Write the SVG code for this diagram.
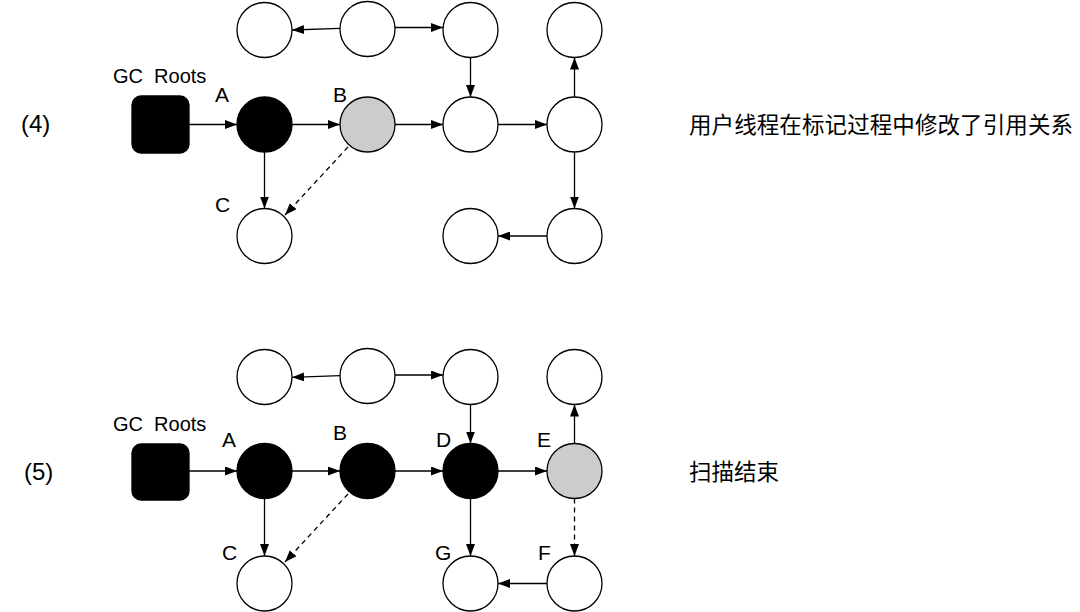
<svg xmlns="http://www.w3.org/2000/svg" width="1080" height="612" viewBox="0 0 1080 612">
<style>
.n{fill:#fff;stroke:#000;stroke-width:1.3}
.b{fill:#000;stroke:#000;stroke-width:1.3}
.g{fill:#ccc;stroke:#000;stroke-width:1.3}
.e{stroke:#000;stroke-width:1.3;fill:none;marker-end:url(#ah)}
.d{stroke-dasharray:5 4}
.t{font-family:"Liberation Sans",Arial,sans-serif;fill:#000}
.lb{font-size:21px}
.gc{font-size:20px}
.num{font-size:24px}
.cn{font-family:"Noto Sans CJK SC","Liberation Sans",sans-serif;fill:#000;font-size:22.5px}
</style>
<defs>
<marker id="ah" markerUnits="userSpaceOnUse" markerWidth="12" markerHeight="9" refX="12" refY="4.5" orient="auto">
<path d="M0,0 L12,4.5 L0,9 z" fill="#000"/>
</marker>
</defs>
<rect width="1080" height="612" fill="#fff"/>

<!-- Diagram (4) -->
<g id="label4"><text class="t num" x="21" y="132">(4)</text></g>
<g id="desc4"><text class="cn" x="689" y="133" textLength="384">用户线程在标记过程中修改了引用关系</text></g>
<g id="gc4"><rect class="b" x="132" y="96" width="57" height="57" rx="9"/><text class="t gc" x="113" y="83" xml:space="preserve">GC  Roots</text></g>
<g id="a4"><circle class="b" cx="264.5" cy="124.5" r="27.5"/><text class="t lb" x="215" y="102">A</text></g>
<g id="b4"><circle class="g" cx="367.5" cy="124.5" r="27.5"/><text class="t lb" x="333" y="102">B</text></g>
<g id="c4"><circle class="n" cx="264.5" cy="236" r="27.5"/><text class="t lb" x="215" y="212">C</text></g>
<g id="t1_4"><circle class="n" cx="264.5" cy="30" r="27.5"/></g>
<g id="t2_4"><circle class="n" cx="367.5" cy="29" r="27.5"/></g>
<g id="t3_4"><circle class="n" cx="470.5" cy="30" r="27.5"/></g>
<g id="t4_4"><circle class="n" cx="574.5" cy="30" r="27.5"/></g>
<g id="m3_4"><circle class="n" cx="470.5" cy="124.5" r="27.5"/></g>
<g id="m4_4"><circle class="n" cx="574.5" cy="124.5" r="27.5"/></g>
<g id="b3_4"><circle class="n" cx="470.5" cy="236" r="27.5"/></g>
<g id="b4_4"><circle class="n" cx="574.5" cy="236" r="27.5"/></g>

<!-- Diagram (5) -->
<g id="label5"><text class="t num" x="24" y="480">(5)</text></g>
<g id="desc5"><text class="cn" x="689" y="480">扫描结束</text></g>
<g id="gc5"><rect class="b" x="132" y="444" width="57" height="56" rx="9"/><text class="t gc" x="113" y="431" xml:space="preserve">GC  Roots</text></g>
<g id="a5"><circle class="b" cx="264.5" cy="471" r="27.5"/><text class="t lb" x="222" y="447">A</text></g>
<g id="b5"><circle class="b" cx="367.5" cy="471" r="27.5"/><text class="t lb" x="333" y="440">B</text></g>
<g id="c5"><circle class="n" cx="264.5" cy="583.5" r="27.5"/><text class="t lb" x="222" y="560">C</text></g>
<g id="d5"><circle class="b" cx="470.5" cy="471" r="27.5"/><text class="t lb" x="436" y="447">D</text></g>
<g id="e5"><circle class="g" cx="574.5" cy="471" r="27.5"/><text class="t lb" x="537" y="447">E</text></g>
<g id="f5"><circle class="n" cx="574.5" cy="583.5" r="27.5"/><text class="t lb" x="538" y="560">F</text></g>
<g id="g5"><circle class="n" cx="470.5" cy="583.5" r="27.5"/><text class="t lb" x="435" y="560">G</text></g>
<g id="t1_5"><circle class="n" cx="264.5" cy="377" r="27.5"/></g>
<g id="t2_5"><circle class="n" cx="367.5" cy="376" r="27.5"/></g>
<g id="t3_5"><circle class="n" cx="470.5" cy="377" r="27.5"/></g>
<g id="t4_5"><circle class="n" cx="574.5" cy="377" r="27.5"/></g>

<g id="connectors">
<!-- (4) -->
<path class="e" d="M340,28.3 L292,30"/>
<path class="e" d="M395,27.5 L443,27.5"/>
<path class="e" d="M470.5,57.5 L470.5,97"/>
<path class="e" d="M574.5,97 L574.5,57.5"/>
<path class="e" d="M189,124.5 L237,124.5"/>
<path class="e" d="M292,124.5 L340,124.5"/>
<path class="e" d="M395,124.5 L443,124.5"/>
<path class="e" d="M498,124.5 L547,124.5"/>
<path class="e" d="M574.5,152 L574.5,208.5"/>
<path class="e" d="M547,236 L498,236"/>
<path class="e" d="M264.5,152 L264.5,208.5"/>
<path class="e d" d="M348,147 L285,215"/>
<!-- (5) -->
<path class="e" d="M340,375.7 L292,377.3"/>
<path class="e" d="M395,375 L443,375"/>
<path class="e" d="M470.5,404.5 L470.5,443.5"/>
<path class="e" d="M574.5,443.5 L574.5,404.5"/>
<path class="e" d="M189,471 L237,471"/>
<path class="e" d="M292,471 L340,471"/>
<path class="e" d="M395,471 L443,471"/>
<path class="e" d="M498,471 L547,471"/>
<path class="e" d="M470.5,498.5 L470.5,556"/>
<path class="e d" d="M574.5,498.5 L574.5,556"/>
<path class="e" d="M547,583.5 L498,583.5"/>
<path class="e" d="M264.5,498.5 L264.5,556"/>
<path class="e d" d="M348,494 L285,562"/>
</g>
</svg>
